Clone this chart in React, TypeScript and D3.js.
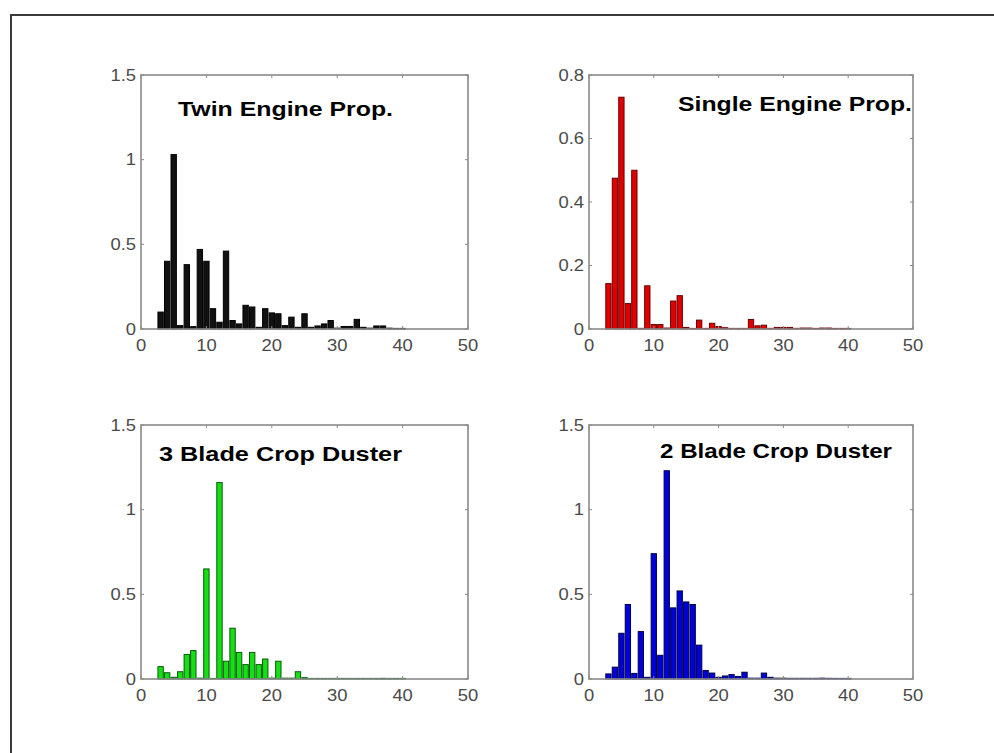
import React from "react";
import * as d3 from "d3";

const bins = d3.range(3, 41);

const twinEngine = [0.10, 0.40, 1.03, 0.02, 0.38, 0.014, 0.47, 0.40, 0.12, 0.04, 0.46, 0.05, 0.03, 0.14, 0.13, 0.01, 0.12, 0.095, 0.09, 0.02, 0.07, 0.01, 0.09, 0.01, 0.018, 0.03, 0.05, 0.005, 0.015, 0.015, 0.057, 0.01, 0.005, 0.018, 0.018, 0.005, 0.003, 0.002];
const singleEngine = [0.143, 0.475, 0.73, 0.08, 0.50, 0.002, 0.136, 0.014, 0.014, 0.003, 0.088, 0.105, 0.005, 0.001, 0.028, 0.001, 0.018, 0.008, 0.004, 0.001, 0.001, 0.001, 0.03, 0.01, 0.012, 0.002, 0.005, 0.005, 0.005, 0.002, 0.003, 0.003, 0.001, 0.003, 0.003, 0.001, 0.001, 0.001];
const threeBlade = [0.073, 0.037, 0.01, 0.043, 0.145, 0.168, 0.005, 0.65, 0.002, 1.16, 0.105, 0.30, 0.157, 0.085, 0.157, 0.085, 0.118, 0.005, 0.105, 0.005, 0.005, 0.043, 0.008, 0.002, 0.001, 0.003, 0.003, 0.002, 0.002, 0.003, 0.002, 0.002, 0.003, 0.003, 0.004, 0.003, 0.002, 0.001];
const twoBlade = [0.03, 0.07, 0.27, 0.44, 0.033, 0.28, 0.01, 0.74, 0.14, 1.23, 0.42, 0.52, 0.455, 0.44, 0.20, 0.05, 0.035, 0.01, 0.018, 0.026, 0.015, 0.04, 0.005, 0.005, 0.035, 0.01, 0.005, 0.005, 0.004, 0.004, 0.004, 0.004, 0.004, 0.005, 0.004, 0.003, 0.003, 0.002];

const xTicks = [0, 10, 20, 30, 40, 50];
const yTicksA = [0, 0.5, 1, 1.5];
const yTicksB = [0, 0.2, 0.4, 0.6, 0.8];
const titles = ["Twin Engine Prop.", "Single Engine Prop.", "3 Blade Crop Duster", "2 Blade Crop Duster"];

const panels = [
  { title: titles[0], values: twinEngine, yMax: 1.5, yTicks: yTicksA, x0: 141, x1: 468, y0: 75, y1: 329, fill: "#111", stroke: "#000", tx: 178, ty: 116, tw: 215 },
  { title: titles[1], values: singleEngine, yMax: 0.8, yTicks: yTicksB, x0: 589, x1: 913, y0: 75, y1: 329, fill: "#e00000", stroke: "#6a0000", tx: 678, ty: 111, tw: 234 },
  { title: titles[2], values: threeBlade, yMax: 1.5, yTicks: yTicksA, x0: 141, x1: 468, y0: 425, y1: 679, fill: "#14e014", stroke: "#0a5a0a", tx: 159, ty: 461, tw: 243 },
  { title: titles[3], values: twoBlade, yMax: 1.5, yTicks: yTicksA, x0: 589, x1: 913, y0: 425, y1: 679, fill: "#0000d8", stroke: "#00004a", tx: 660, ty: 458, tw: 232 },
];

const tickFmt = (v: number) => (v === 0 ? "0" : String(v));
const FONT = "Liberation Sans, Arial, sans-serif";

function Panel({ p }: { p: typeof panels[number] }) {
  const x = d3.scaleLinear().domain([0, 50]).range([p.x0, p.x1]);
  const y = d3.scaleLinear().domain([0, p.yMax]).range([p.y1, p.y0]);
  const bw = (x(1) - x(0)) * 0.82;
  const axisColor = "#8a8a8a";
  const labelColor = "#4a4a4a";
  return (
    <g>
      <rect x={p.x0} y={p.y0} width={p.x1 - p.x0} height={p.y1 - p.y0} fill="#fff" />
      {bins.map((b, i) => {
        const v = p.values[i];
        const top = y(v);
        const h = Math.max(p.y1 - top, 0.6);
        return (
          <rect key={b} x={x(b) - bw / 2} y={p.y1 - h} width={bw} height={h} fill={p.fill} stroke={p.stroke} strokeWidth={1} />
        );
      })}
      <rect x={p.x0} y={p.y0} width={p.x1 - p.x0} height={p.y1 - p.y0} fill="none" stroke={axisColor} strokeWidth={1.6} />
      {xTicks.map((t) => (
        <g key={"x" + t}>
          <line x1={x(t)} x2={x(t)} y1={p.y1} y2={p.y1 - 3} stroke={axisColor} />
          <line x1={x(t)} x2={x(t)} y1={p.y0} y2={p.y0 + 3} stroke={axisColor} />
          <text transform={`translate(${x(t)},${p.y1 + 22}) scale(1.15,1)`} textAnchor="middle" fontFamily={FONT} fontSize={16} fill={labelColor}>{tickFmt(t)}</text>
        </g>
      ))}
      {p.yTicks.map((t) => (
        <g key={"y" + t}>
          <line x1={p.x0} x2={p.x0 + 3} y1={y(t)} y2={y(t)} stroke={axisColor} />
          <line x1={p.x1} x2={p.x1 - 3} y1={y(t)} y2={y(t)} stroke={axisColor} />
          <text transform={`translate(${p.x0 - 5},${y(t) + 5.5}) scale(1.15,1)`} textAnchor="end" fontFamily={FONT} fontSize={16} fill={labelColor}>{tickFmt(t)}</text>
        </g>
      ))}
      <text x={p.tx} y={p.ty} textLength={p.tw} lengthAdjust="spacingAndGlyphs" fontFamily={FONT} fontWeight="bold" fontSize={21} fill="#000">{p.title}</text>
    </g>
  );
}

export default function App() {
  return (
    <svg width={994} height={753} style={{ position: "absolute", left: 0, top: 0, background: "#fff" }}>
      <rect x={0} y={0} width={994} height={753} fill="#fff" />
      <rect x={11} y={15} width={1000} height={800} fill="none" stroke="#3c3c3c" strokeWidth={2} />
      {panels.map((p) => (
        <Panel key={p.title} p={p} />
      ))}
    </svg>
  );
}
